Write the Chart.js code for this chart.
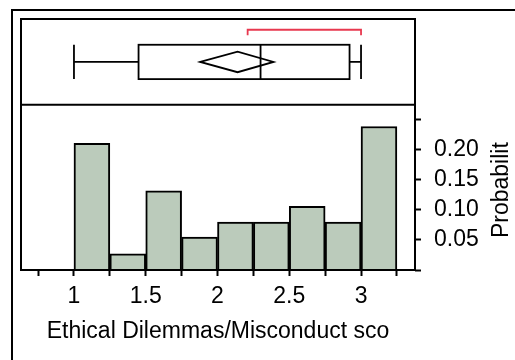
<!DOCTYPE html>
<html>
<head>
<meta charset="utf-8">
<script src="https://cdn.jsdelivr.net/npm/chart.js@4"></script>
<style>
  body { margin: 0; background: #fff; }
  #wrap { position: relative; width: 515px; height: 360px; overflow: hidden; }
  #frame { position: absolute; left: 11px; top: 9px; width: 600px; height: 400px;
           border-left: 2px solid #000; border-top: 2px solid #000; }
  canvas { position: absolute; left: 0; top: 0; }
</style>
</head>
<body>
<div id="wrap">
  <div id="frame"></div>
  <canvas id="myChart" width="515" height="360"></canvas>
</div>
<script>
// histogram bins (width 0.25) and probabilities
const binStarts = [1, 1.25, 1.5, 1.75, 2, 2.25, 2.5, 2.75, 3];
const probs = [0.211, 0.027, 0.132, 0.055, 0.080, 0.080, 0.106, 0.080, 0.239];
const xTicks = [0.75, 1, 1.25, 1.5, 1.75, 2, 2.25, 2.5, 2.75, 3, 3.25];
const xLabels = [1, 1.5, 2, 2.5, 3];
const yTicks = [0, 0.05, 0.10, 0.15, 0.20, 0.25];
const yLabels = [0.05, 0.10, 0.15, 0.20];

// outlier box plot summary
const boxMin = 1.0, boxQ1 = 1.45, boxMedian = 2.30, boxQ3 = 2.92, boxMax = 3.0;
const meanVal = 2.14, meanLo = 1.88, meanHi = 2.39;
const shortHalf = [2.21, 3.0];

const xMin = 0.631, xMax = 3.376;
const yMax = 0.418, histTop = 0.275;

const boxPlot = {
  id: 'boxPlot',
  afterDraw(chart) {
    const {ctx, chartArea: a, scales: {x, y}} = chart;
    const sep = y.getPixelForValue(histTop);
    const ph = sep - a.top;
    const py = f => sep - f * ph;
    ctx.save();
    ctx.strokeStyle = '#000';
    ctx.lineWidth = 2;
    ctx.strokeRect(a.left, a.top, a.right - a.left, a.bottom - a.top);
    ctx.beginPath();
    ctx.moveTo(a.left, sep); ctx.lineTo(a.right, sep);
    ctx.stroke();

    const cy = py(0.5), bt = py(0.70), bb = py(0.30);
    ctx.lineWidth = 1.8;
    ctx.beginPath();
    // whiskers
    ctx.moveTo(x.getPixelForValue(boxMin), cy); ctx.lineTo(x.getPixelForValue(boxQ1), cy);
    ctx.moveTo(x.getPixelForValue(boxQ3), cy); ctx.lineTo(x.getPixelForValue(boxMax), cy);
    ctx.moveTo(x.getPixelForValue(boxMin), bt); ctx.lineTo(x.getPixelForValue(boxMin), bb);
    ctx.moveTo(x.getPixelForValue(boxMax), bt); ctx.lineTo(x.getPixelForValue(boxMax), bb);
    // median
    ctx.moveTo(x.getPixelForValue(boxMedian), bt); ctx.lineTo(x.getPixelForValue(boxMedian), bb);
    ctx.stroke();
    ctx.strokeRect(x.getPixelForValue(boxQ1), bt,
      x.getPixelForValue(boxQ3) - x.getPixelForValue(boxQ1), bb - bt);
    // mean diamond
    ctx.beginPath();
    ctx.moveTo(x.getPixelForValue(meanLo), cy);
    ctx.lineTo(x.getPixelForValue(meanVal), py(0.62));
    ctx.lineTo(x.getPixelForValue(meanHi), cy);
    ctx.lineTo(x.getPixelForValue(meanVal), py(0.38));
    ctx.closePath();
    ctx.stroke();
    // shortest half bracket
    ctx.strokeStyle = '#e8384f';
    ctx.lineWidth = 1.8;
    const r0 = x.getPixelForValue(shortHalf[0]), r1 = x.getPixelForValue(shortHalf[1]);
    ctx.beginPath();
    ctx.moveTo(r0, py(0.81)); ctx.lineTo(r0, py(0.875));
    ctx.lineTo(r1, py(0.875)); ctx.lineTo(r1, py(0.81));
    ctx.stroke();

    // right axis title, reading bottom to top
    ctx.fillStyle = '#000';
    ctx.font = '23px "Liberation Sans", Arial, sans-serif';
    ctx.textAlign = 'center';
    ctx.textBaseline = 'middle';
    ctx.translate(502, y.getPixelForValue(0.133));
    ctx.rotate(-Math.PI / 2);
    ctx.fillText('Probabilit', 0, 0);
    ctx.restore();
  }
};

const font = {family: '"Liberation Sans", Arial, sans-serif', size: 23};

new Chart(document.getElementById('myChart'), {
  type: 'bar',
  data: {
    datasets: [{
      data: binStarts.map((b, i) => ({x: b + 0.125, y: probs[i]})),
      backgroundColor: '#bbcbbb',
      borderColor: '#000',
      borderWidth: 2,
      barPercentage: 1,
      categoryPercentage: 1
    }]
  },
  options: {
    responsive: false,
    animation: false,
    layout: {padding: {left: 21, top: 19, right: 0, bottom: 0}},
    plugins: {legend: {display: false}, tooltip: {enabled: false}},
    scales: {
      x: {
        type: 'linear',
        offset: false,
        min: xMin,
        max: xMax,
        afterBuildTicks: s => { s.ticks = xTicks.map(v => ({value: v})); },
        afterFit: s => { s.height = 90; s.paddingLeft = 0; s.paddingRight = 0; },
        grid: {drawOnChartArea: false, offset: false, color: '#000', tickLength: 6, tickWidth: 2},
        border: {display: false},
        ticks: {
          color: '#000', font, padding: 7, maxRotation: 0, autoSkip: false,
          callback: v => xLabels.includes(v) ? String(v) : ''
        },
        title: {
          display: true, text: 'Ethical Dilemmas/Misconduct sco',
          color: '#000', font, padding: {top: 0, bottom: 15}
        }
      },
      y: {
        position: 'right',
        min: 0,
        max: yMax,
        afterBuildTicks: s => { s.ticks = yTicks.map(v => ({value: v})); },
        afterFit: s => { s.width = 100; s.paddingTop = 0; s.paddingBottom = 0; },
        grid: {drawOnChartArea: false, color: '#000', tickLength: 6, tickWidth: 2},
        border: {display: false},
        ticks: {
          color: '#000', font, padding: 13, autoSkip: false,
          callback: v => yLabels.some(l => Math.abs(l - v) < 1e-9) ? v.toFixed(2) : ''
        }
      }
    }
  },
  plugins: [boxPlot]
});
</script>
</body>
</html>
